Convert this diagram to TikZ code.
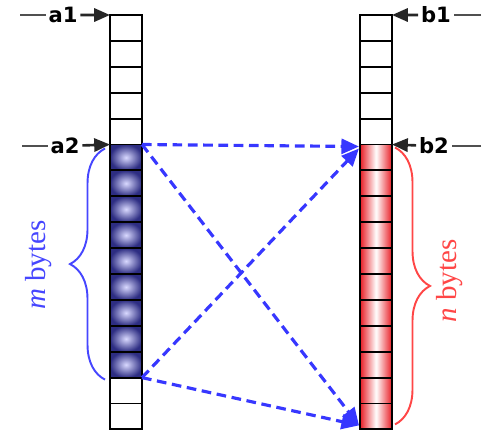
\documentclass[tikz,border=0pt]{standalone}
\usepackage{fontspec}
\setmainfont{Liberation Serif}
\newfontfamily\ptrfont{DejaVu Sans}
\usetikzlibrary{arrows.meta, positioning, calc, decorations.pathreplacing}
\definecolor{cellblue}{RGB}{45,45,130}
\definecolor{cellred}{RGB}{232,28,36}
\definecolor{copyblue}{RGB}{55,55,255}
\definecolor{braceblue}{RGB}{70,70,255}
\definecolor{bracered}{RGB}{255,70,70}
\definecolor{ptrgray}{RGB}{80,80,80}

\begin{document}
\begin{tikzpicture}[
    x=0.02cm, y=-0.02cm,
    cell/.style={rectangle, draw, line width=1.1pt, minimum width=0.64cm, minimum height=0.518cm, inner sep=0pt, outer sep=0pt},
    bluecell/.style={cell, inner color=white!85!blue, outer color=cellblue},
    redcell/.style={cell, left color=cellred, right color=cellred, middle color=white},
    ptrname/.style={font=\fontsize{12}{14}\ptrfont\bfseries, inner sep=1.5pt},
    ptrtail/.style={ptrgray, line width=1.5pt},
    ptr/.style={-{Triangle[length=9pt, width=7.5pt]}, line width=1.5pt, black!85},
    copyarrow/.style={-{Triangle[length=10pt, width=8.5pt]}, dash pattern=on 5.5pt off 3.2pt, line width=1.8pt, copyblue},
    bytebrace/.style={decorate, decoration={brace, amplitude=0.7cm}, line width=1.1pt},
    bytelabel/.style={font=\fontsize{16.5}{19}\selectfont, rotate=90}
]
    \useasboundingbox (0,0) rectangle (482,430);

    % Source buffer a
    \foreach \i in {0,...,4,14,15}
        \node[cell] (A\i) at (126, {27.95+25.9*\i}) {};
    \foreach \i in {5,...,13}
        \node[bluecell] (A\i) at (126, {27.95+25.9*\i}) {};

    % Destination buffer b
    \foreach \i in {0,...,4}
        \node[cell] (B\i) at (376, {27.95+25.9*\i}) {};
    \foreach \i in {5,...,15}
        \node[redcell] (B\i) at (376, {27.95+25.9*\i}) {};

    % Pointers
    \node[ptrname] (a1) at (63,15) {a1};
    \node[ptrname] (a2) at (65,146) {a2};
    \node[ptrname] (b1) at (436,15) {b1};
    \node[ptrname] (b2) at (434,146) {b2};
    \coordinate (a1tail) at (20,15);
    \coordinate (a2tail) at (22,146);
    \coordinate (b1tail) at (481,15);
    \coordinate (b2tail) at (481,146);

    \draw[ptrtail] (a1tail) -- (a1);
    \draw[ptrtail] (a2tail) -- (a2);
    \draw[ptrtail] (b1tail) -- (b1);
    \draw[ptrtail] (b2tail) -- (b2);
    \draw[ptr] (a1) -- (A0.north west);
    \draw[ptr] (a2) -- (A5.north west);
    \draw[ptr] (b1) -- (B0.north east);
    \draw[ptr] (b2) -- (B5.north east);

    % Copy arrows
    \draw[copyarrow] (A5.north east) -- ($(B5.north west)+(-1,2)$);
    \draw[copyarrow] (A5.north east) -- ($(B15.south west)+(-1,-4)$);
    \draw[copyarrow] (A13.south east) -- ($(B5.north west)+(-1,4)$);
    \draw[copyarrow] (A13.south east) -- ($(B15.south west)+(-1,-4)$);

    % Sizes
    \draw[bytebrace, braceblue] ($(A13.south west)+(-5,2)$) -- ($(A5.north west)+(-5,4)$);
    \draw[bytebrace, bracered] ($(B5.north east)+(3,3)$) -- ($(B15.south east)+(3,-5)$);
    \node[bytelabel, text=braceblue] (mbytes) at (39,265) {\textit{m} bytes};
    \node[bytelabel, text=bracered] (nbytes) at (450,281) {\textit{n} bytes};

\end{tikzpicture}
\end{document}
